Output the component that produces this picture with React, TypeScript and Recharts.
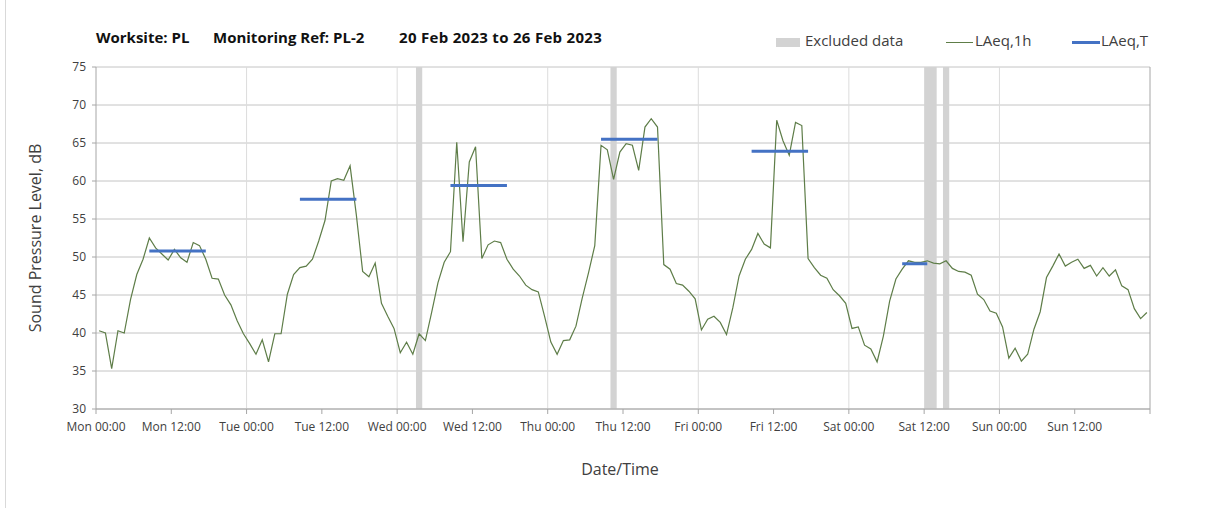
import React from "react";
import {
  ComposedChart, Line, XAxis, YAxis, CartesianGrid, ReferenceArea, ReferenceLine,
} from "recharts";

// hourly LAeq,1h Mon 00:00 .. Sun 23:00
const laeq1h = [
  40.3, 40.0, 35.3, 40.3, 40.0, 44.4, 47.7, 49.7, 52.5, 51.2, 50.4, 49.6, 51.0, 49.9, 49.3, 51.9, 51.5, 49.7, 47.2, 47.1, 45.0, 43.7, 41.6, 39.9,
  38.6, 37.2, 39.1, 36.2, 39.9, 39.9, 45.1, 47.7, 48.6, 48.8, 49.7, 52.1, 54.8, 60.0, 60.3, 60.1, 62.0, 55.5, 48.1, 47.4, 49.2, 43.9, 42.2, 40.6,
  37.4, 38.8, 37.2, 39.9, 39.0, 42.7, 46.6, 49.3, 50.7, 65.1, 52.0, 62.5, 64.5, 49.8, 51.6, 52.1, 51.9, 49.7, 48.4, 47.5, 46.3, 45.7, 45.4, 42.2,
  38.8, 37.2, 39.0, 39.1, 40.9, 44.6, 47.9, 51.5, 64.7, 64.1, 60.2, 63.8, 64.9, 64.7, 61.4, 67.1, 68.2, 67.1, 49.0, 48.4, 46.5, 46.3, 45.5, 44.5,
  40.4, 41.8, 42.2, 41.4, 39.8, 43.3, 47.5, 49.7, 51.0, 53.1, 51.7, 51.2, 68.0, 65.3, 63.4, 67.7, 67.3, 49.8, 48.6, 47.6, 47.2, 45.7, 44.9, 43.9,
  40.6, 40.8, 38.4, 37.9, 36.2, 39.6, 44.2, 47.1, 48.4, 49.5, 49.3, 49.3, 49.5, 49.2, 49.1, 49.5, 48.5, 48.1, 48.0, 47.6, 45.1, 44.4, 42.9, 42.6,
  40.8, 36.7, 38.0, 36.3, 37.2, 40.5, 42.8, 47.3, 48.8, 50.4, 48.8, 49.3, 49.7, 48.5, 48.9, 47.5, 48.6, 47.5, 48.3, 46.2, 45.7, 43.2, 41.9, 42.7,
];

// daily LAeq,T over the working period (hour of day, inclusive)
const laeqT = [50.8, 57.6, 59.4, 65.5, 63.9, 49.1, null];
const periodStart = [8, 8, 8, 8, 8, 8, 8];
const periodEnd = [17, 17, 17, 17, 17, 12, 17];

// excluded hours (from, to)
const excludedFrom = [51, 82, 132, 135];
const excludedTo = [52, 83, 134, 136];

const xTicks = [0, 12, 24, 36, 48, 60, 72, 84, 96, 108, 120, 132, 144, 156, 168];
const xTickLabels = [
  "Mon 00:00", "Mon 12:00", "Tue 00:00", "Tue 12:00", "Wed 00:00", "Wed 12:00", "Thu 00:00",
  "Thu 12:00", "Fri 00:00", "Fri 12:00", "Sat 00:00", "Sat 12:00", "Sun 00:00", "Sun 12:00", "",
];
const dayLines = [24, 48, 72, 96, 120, 144];
const yTicks = [30, 35, 40, 45, 50, 55, 60, 65, 70, 75];

const data = laeq1h.map((v, i) => {
  const day = Math.floor(i / 24);
  const hod = i % 24;
  const inPeriod = laeqT[day] != null && hod >= periodStart[day] && hod <= periodEnd[day];
  return { t: i + 0.5, v, T: inPeriod ? laeqT[day] : null };
});

const FONT = "'Open Sans', sans-serif";
const GREEN = "#5e7d48";
const BLUE = "#4472c4";
const BAND = "#d3d3d3";

export default function App() {
  return (
    <div style={{ position: "absolute", left: 0, top: 0, width: 1208, height: 508, background: "#fff", fontFamily: FONT, overflow: "hidden" }}>
      <div style={{ position: "absolute", left: 5, top: 0, width: 1, height: 508, background: "#d9d9d9" }} />

      <div style={{ position: "absolute", top: 27, left: 96, fontWeight: 700, fontSize: 15, color: "#111", whiteSpace: "nowrap" }}>
        <span style={{ position: "absolute", left: 0 }}>Worksite: PL</span>
        <span style={{ position: "absolute", left: 117 }}>Monitoring Ref: PL-2</span>
        <span style={{ position: "absolute", left: 303, letterSpacing: 0.3 }}>20 Feb 2023 to 26 Feb 2023</span>
      </div>

      <div style={{ position: "absolute", top: 32, left: 776, fontSize: 15, color: "#404040", whiteSpace: "nowrap" }}>
        <span style={{ position: "absolute", left: 0, top: 6, width: 24, height: 9, background: BAND }} />
        <span style={{ position: "absolute", left: 29, top: -2 }}>Excluded data</span>
        <span style={{ position: "absolute", left: 170, top: 10, width: 27, height: 1.3, background: GREEN }} />
        <span style={{ position: "absolute", left: 199, top: -2 }}>LAeq,1h</span>
        <span style={{ position: "absolute", left: 296, top: 9, width: 28, height: 3, background: BLUE }} />
        <span style={{ position: "absolute", left: 325, top: -2 }}>LAeq,T</span>
      </div>

      <div style={{ position: "absolute", left: 35, top: 238, transform: "translate(-50%, -50%) rotate(-90deg)", fontSize: 16, color: "#404040", whiteSpace: "nowrap" }}>
        Sound Pressure Level, dB
      </div>
      <div style={{ position: "absolute", left: 620, top: 469, transform: "translate(-50%, -50%)", fontSize: 16, color: "#404040" }}>
        Date/Time
      </div>

      <ComposedChart width={1208} height={508} data={data} margin={{ top: 67, right: 58, bottom: 69, left: 36 }}>
        <CartesianGrid vertical={false} stroke="#c4c4c4" />
        {dayLines.map(d => (
          <ReferenceLine key={d} x={d} stroke="#dcdcdc" strokeWidth={1} />
        ))}
        {excludedFrom.map((f, i) => (
          <ReferenceArea key={f} x1={f} x2={excludedTo[i]} y1={30} y2={75} fill={BAND} fillOpacity={1} stroke="none" />
        ))}
        <ReferenceLine x={168} stroke="#a6a6a6" />
        <XAxis
          dataKey="t" type="number" domain={[0, 168]} ticks={xTicks} interval={0}
          tickFormatter={(t: number) => xTickLabels[xTicks.indexOf(t)] ?? ""}
          height={30} tickSize={5} tickMargin={8}
          stroke="#a6a6a6" tick={{ fill: "#404040", fontSize: 12, fontFamily: FONT }}
        />
        <YAxis
          type="number" domain={[30, 75]} ticks={yTicks} interval={0} width={60}
          tickSize={4} tickMargin={6} stroke="#a6a6a6"
          tick={{ fill: "#404040", fontSize: 12, fontFamily: FONT }}
        />
        <Line dataKey="v" stroke={GREEN} strokeWidth={1.2} dot={false} isAnimationActive={false} />
        <Line dataKey="T" stroke={BLUE} strokeWidth={3} dot={false} connectNulls={false} isAnimationActive={false} />
      </ComposedChart>
    </div>
  );
}
